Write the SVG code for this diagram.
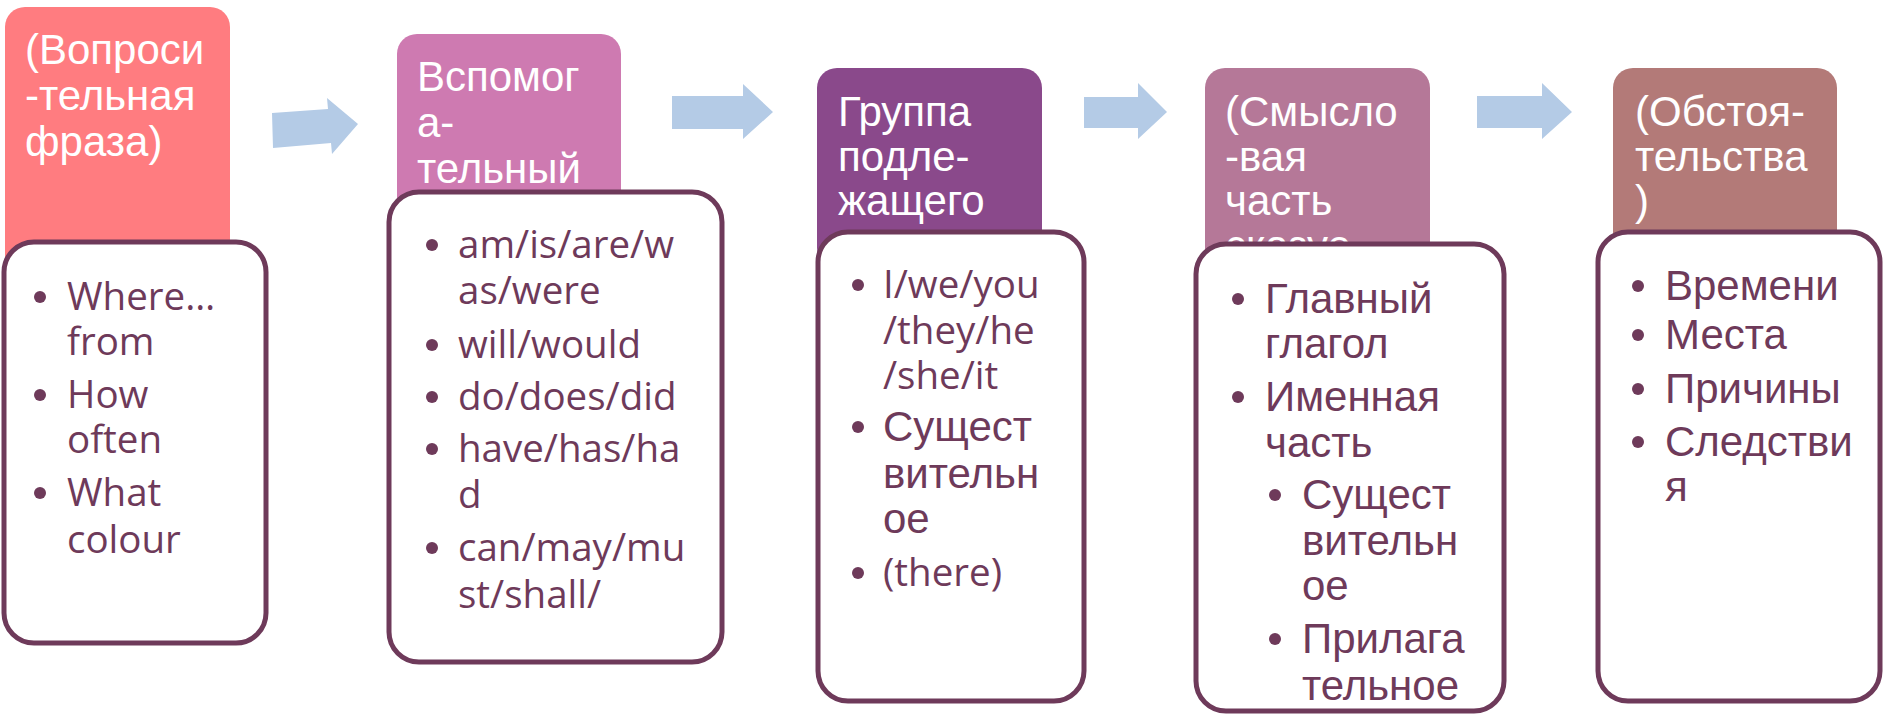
<svg xmlns="http://www.w3.org/2000/svg" width="1884" height="715" viewBox="0 0 1884 715">
<style>
.hdr{font-family:"Liberation Sans",Arial,sans-serif;font-size:42px;fill:#ffffff}
.box{fill:#ffffff;stroke:#6E3A5A;stroke-width:5}
.lat{font-family:"Open Sans","Liberation Sans",sans-serif;font-size:38.5px;fill:#6E3A5A}
.cyr{font-family:"Liberation Sans",Arial,sans-serif;font-size:42px;fill:#6E3A5A}
.dot{fill:#6E3A5A}
.arr{fill:#B4CBE6}
</style>
<rect width="1884" height="715" fill="#ffffff"/>
<g id="connectors">
<polygon class="arr" points="272,113 328,109 327,98 358,124 332,154 331,143 273,148"/>
<polygon class="arr" points="672,96 743,96 743,84 773,112 743,139 743,129 672,129"/>
<polygon class="arr" points="1084,97 1138,97 1138,83 1167,112 1138,139 1138,128 1084,128"/>
<polygon class="arr" points="1477,96 1542,96 1542,83 1572,112 1542,139 1542,128 1477,128"/>
</g>
<g id="node1">
<rect x="5" y="7" width="225" height="270" rx="20" fill="#FF7C80"/>
<text class="hdr" x="25" y="64">(Вопроси</text>
<text class="hdr" x="25" y="110">-тельная</text>
<text class="hdr" x="25" y="156">фраза)</text>
<rect class="box" x="4" y="242" width="262" height="401" rx="30"/>
<circle class="dot" cx="40" cy="297" r="6"/><text class="lat" x="67" y="310">Where…</text>
<text class="lat" x="67" y="355">from</text>
<circle class="dot" cx="40" cy="395" r="6"/><text class="lat" x="67" y="408">How</text>
<text class="lat" x="67" y="453">often</text>
<circle class="dot" cx="40" cy="493" r="6"/><text class="lat" x="67" y="506">What</text>
<text class="lat" x="67" y="553">colour</text>
</g>
<g id="node2">
<rect x="397" y="34" width="224" height="200" rx="20" fill="#CE7AB1"/>
<text class="hdr" x="417" y="91">Вспомог</text>
<text class="hdr" x="417" y="137">а-</text>
<text class="hdr" x="417" y="183">тельный</text>
<rect class="box" x="389" y="192" width="333" height="470" rx="30"/>
<circle class="dot" cx="432" cy="245" r="6"/><text class="lat" x="458" y="258">am/is/are/w</text>
<text class="lat" x="458" y="304">as/were</text>
<circle class="dot" cx="432" cy="345" r="6"/><text class="lat" x="458" y="358">will/would</text>
<circle class="dot" cx="432" cy="397" r="6"/><text class="lat" x="458" y="410">do/does/did</text>
<circle class="dot" cx="432" cy="449" r="6"/><text class="lat" x="458" y="462">have/has/ha</text>
<text class="lat" x="458" y="508">d</text>
<circle class="dot" cx="432" cy="548" r="6"/><text class="lat" x="458" y="561">can/may/mu</text>
<text class="lat" x="458" y="608">st/shall/</text>
</g>
<g id="node3">
<rect x="817" y="68" width="225" height="200" rx="20" fill="#8A498B"/>
<text class="hdr" x="838" y="126">Группа</text>
<text class="hdr" x="838" y="171">подле-</text>
<text class="hdr" x="838" y="215">жащего</text>
<rect class="box" x="818" y="232" width="266" height="469" rx="30"/>
<circle class="dot" cx="858" cy="285" r="6"/><text class="lat" x="883" y="298">I/we/you</text>
<text class="lat" x="883" y="344">/they/he</text>
<text class="lat" x="883" y="389">/she/it</text>
<circle class="dot" cx="858" cy="427" r="6"/><text class="cyr" x="883" y="441">Сущест</text>
<text class="cyr" x="883" y="488">вительн</text>
<text class="cyr" x="883" y="533">ое</text>
<circle class="dot" cx="858" cy="573" r="6"/><text class="lat" x="883" y="586">(there)</text>
</g>
<g id="node4">
<rect x="1205" y="68" width="225" height="210" rx="20" fill="#B57898"/>
<text class="hdr" x="1225" y="126">(Смысло</text>
<text class="hdr" x="1225" y="171">-вая</text>
<text class="hdr" x="1225" y="215">часть</text>
<text class="hdr" x="1225" y="260">сказуе</text>
<rect class="box" x="1196" y="244" width="308" height="467" rx="30"/>
<circle class="dot" cx="1238" cy="299" r="6"/><text class="cyr" x="1265" y="313">Главный</text>
<text class="cyr" x="1265" y="358">глагол</text>
<circle class="dot" cx="1238" cy="397" r="6"/><text class="cyr" x="1265" y="411">Именная</text>
<text class="cyr" x="1265" y="457">часть</text>
<circle class="dot" cx="1275" cy="495" r="6"/><text class="cyr" x="1302" y="509">Сущест</text>
<text class="cyr" x="1302" y="555">вительн</text>
<text class="cyr" x="1302" y="600">ое</text>
<circle class="dot" cx="1275" cy="639" r="6"/><text class="cyr" x="1302" y="653">Прилага</text>
<text class="cyr" x="1302" y="700">тельное</text>
</g>
<g id="node5">
<rect x="1613" y="68" width="224" height="200" rx="20" fill="#B37A78"/>
<text class="hdr" x="1635" y="126">(Обстоя-</text>
<text class="hdr" x="1635" y="171">тельства</text>
<text class="hdr" x="1635" y="215">)</text>
<rect class="box" x="1598" y="232" width="282" height="469" rx="30"/>
<circle class="dot" cx="1638" cy="286" r="6"/><text class="cyr" x="1665" y="300">Времени</text>
<circle class="dot" cx="1638" cy="335" r="6"/><text class="cyr" x="1665" y="349">Места</text>
<circle class="dot" cx="1638" cy="389" r="6"/><text class="cyr" x="1665" y="403">Причины</text>
<circle class="dot" cx="1638" cy="442" r="6"/><text class="cyr" x="1665" y="456">Следстви</text>
<text class="cyr" x="1665" y="501">я</text>
</g>
</svg>
